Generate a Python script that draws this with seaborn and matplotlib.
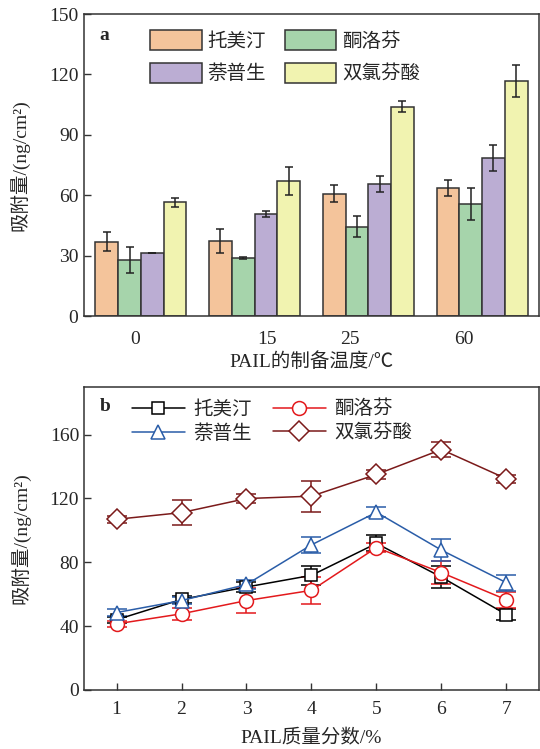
import numpy as np
import pandas as pd
import matplotlib
matplotlib.use("Agg")
import matplotlib.pyplot as plt
import seaborn as sns
from matplotlib.lines import Line2D

# ---------------- data ----------------
drugs = ["托美汀", "酮洛芬", "萘普生", "双氯芬酸"]
temps = ["0", "15", "25", "60"]
# panel a: rows = drugs, cols = temperatures
tolmetin_a = [37.0, 37.1, 60.8, 63.7]
ketoprofen_a = [28.0, 28.7, 44.4, 55.6]
naproxen_a = [31.1, 50.8, 65.4, 78.5]
diclofenac_a = [56.5, 67.2, 104.0, 116.9]
tolmetin_a_err = [4.5, 5.9, 4.2, 4.1]
ketoprofen_a_err = [6.5, 0.5, 5.4, 8.1]
naproxen_a_err = [0.0, 1.4, 4.0, 6.3]
diclofenac_a_err = [2.2, 6.9, 2.8, 7.9]

# panel b
mass_frac = [1, 2, 3, 4, 5, 6, 7]
tolmetin_b = [44.0, 56.7, 64.5, 71.8, 91.8, 70.7, 47.2]
ketoprofen_b = [41.4, 47.7, 56.0, 62.4, 89.2, 73.5, 56.5]
naproxen_b = [48.5, 56.0, 66.1, 90.9, 111.3, 87.6, 67.2]
diclofenac_b = [106.9, 111.1, 119.9, 121.4, 135.0, 150.6, 132.3]
tolmetin_b_err = [2.0, 2.0, 3.0, 6.0, 5.0, 7.0, 3.5]
ketoprofen_b_err = [2.0, 3.6, 8.0, 8.4, 3.0, 7.0, 5.0]
naproxen_b_err = [2.0, 2.0, 3.0, 5.0, 3.0, 7.0, 5.0]
diclofenac_b_err = [2.0, 8.0, 3.0, 9.7, 3.0, 4.7, 2.5]

bar_colors = ["#F4C49B", "#A6D4AB", "#BBADD3", "#F1F3B0"]
line_colors = ["#000000", "#E3191C", "#2A5DA8", "#7B1A1A"]
line_markers = ["s", "o", "^", "D"]

# ---------------- style ----------------
sns.set_theme(style="ticks")
FONT = ["Liberation Serif", "Noto Sans CJK SC", "DejaVu Sans"]
plt.rcParams["font.family"] = FONT
plt.rcParams["axes.unicode_minus"] = False
FS = 14
EDGE = "#333333"

fig = plt.figure(figsize=(5.40, 7.49), dpi=100)
ax1 = fig.add_axes([0.1556, 0.5781, 0.8424, 0.4032])
ax2 = fig.add_axes([0.1556, 0.0788, 0.8424, 0.4050])

# legend order: row-wise as in the reference (matplotlib fills columns)
leg_order = [0, 2, 1, 3]

# ---------------- panel a ----------------
vals_a = [tolmetin_a, ketoprofen_a, naproxen_a, diclofenac_a]
errs_a = [tolmetin_a_err, ketoprofen_a_err, naproxen_a_err, diclofenac_a_err]
df_a = pd.DataFrame(
    [(t, d, v[i]) for d, v in zip(drugs, vals_a) for i, t in enumerate(temps)],
    columns=["temp", "drug", "value"],
)
sns.barplot(data=df_a, x="temp", y="value", hue="drug", order=temps,
            hue_order=drugs, palette=bar_colors, errorbar=None,
            saturation=1, edgecolor=EDGE, linewidth=1.1, width=0.8,
            ax=ax1, legend=False)
for cont, err in zip(ax1.containers, errs_a):
    xs = [p.get_x() + p.get_width() / 2 for p in cont]
    hs = [p.get_height() for p in cont]
    ax1.errorbar(xs, hs, yerr=err, fmt="none", ecolor="#222222",
                 elinewidth=1.1, capsize=3, capthick=1.1, zorder=5)

ax1.set_xlim(-0.5, 3.5)
ax1.set_ylim(0, 150)
ax1.set_yticks([0, 30, 60, 90, 120, 150])
ax1.set_xticks([-0.05, 1.11, 1.84, 2.84])
ax1.set_xticklabels(temps)
ax1.tick_params(axis="x", length=0, pad=11, labelsize=FS)
ax1.tick_params(axis="y", direction="in", length=5, width=1.0, pad=4,
                labelsize=FS, color=EDGE)
ax1.set_xlabel("PAIL的制备温度/℃", fontsize=FS, labelpad=3)
ax1.set_ylabel("吸附量/(ng/cm²)", fontsize=FS, labelpad=14)
ax1.text(0.045, 0.928, "a", transform=ax1.transAxes, fontsize=FS,
         fontweight="bold", va="center", ha="center")
handles_a = [plt.Rectangle((0, 0), 1, 1, facecolor=c, edgecolor=EDGE,
                           linewidth=1.1) for c in bar_colors]
ax1.legend([handles_a[i] for i in leg_order], [drugs[i] for i in leg_order],
           ncol=2, loc="upper left",
           bbox_to_anchor=(0.12, 0.985), frameon=False, fontsize=FS,
           handlelength=2.65, handleheight=1.2, handletextpad=0.3,
           columnspacing=0.95, labelspacing=0.62, borderaxespad=0.2)

# ---------------- panel b ----------------
vals_b = [tolmetin_b, ketoprofen_b, naproxen_b, diclofenac_b]
errs_b = [tolmetin_b_err, ketoprofen_b_err, naproxen_b_err, diclofenac_b_err]
msizes = [9, 10, 10.5, 10]
for v, e, c, m, ms in zip(vals_b, errs_b, line_colors, line_markers, msizes):
    ax2.errorbar(mass_frac, v, yerr=e, fmt="none", ecolor=c, elinewidth=1.1,
                 capsize=7, capthick=1.1, zorder=3)
    sns.lineplot(x=mass_frac, y=v, color=c, marker=m, markersize=ms,
                 markerfacecolor="white", markeredgecolor=c,
                 markeredgewidth=1.1, linewidth=1.1, ax=ax2, zorder=4)

ax2.set_xlim(0.5, 7.5)
ax2.set_ylim(0, 190)
ax2.set_xticks(mass_frac)
ax2.set_yticks([0, 40, 80, 120, 160])
ax2.tick_params(axis="both", direction="in", length=5, width=1.0,
                labelsize=FS, color=EDGE)
ax2.tick_params(axis="x", pad=8)
ax2.set_xlabel("PAIL质量分数/%", fontsize=FS, labelpad=8)
ax2.set_ylabel("吸附量/(ng/cm²)", fontsize=FS, labelpad=14)
ax2.text(0.047, 0.935, "b", transform=ax2.transAxes, fontsize=FS,
         fontweight="bold", va="center", ha="center")
handles_b = [Line2D([], [], color=c, marker=m, markersize=ms,
                    markerfacecolor="white", markeredgecolor=c,
                    markeredgewidth=1.1, linewidth=1.1)
             for c, m, ms in zip(line_colors, line_markers, msizes)]
ax2.legend([handles_b[i] for i in leg_order], [drugs[i] for i in leg_order],
           ncol=2, loc="upper left",
           bbox_to_anchor=(0.08, 0.995), frameon=False, fontsize=FS,
           handlelength=2.7, handletextpad=0.45, columnspacing=1.1,
           labelspacing=0.3, borderaxespad=0.2)

for ax in (ax1, ax2):
    for s in ax.spines.values():
        s.set_color(EDGE)
        s.set_linewidth(1.1)
        s.set_visible(True)

fig.savefig("out.png", dpi=100)
